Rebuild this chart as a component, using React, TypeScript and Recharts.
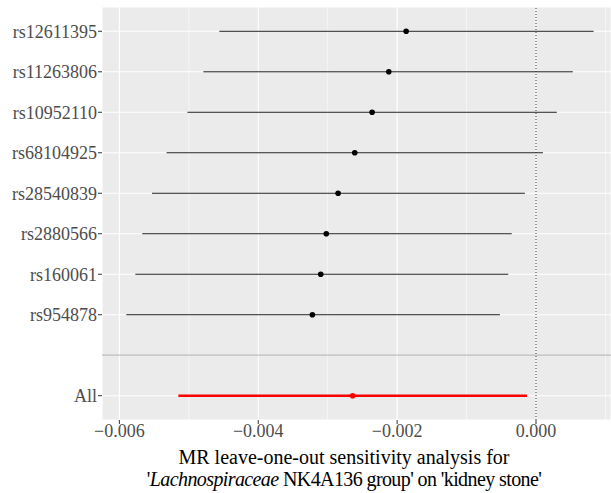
import React from 'react';
import {
  ScatterChart,
  Scatter,
  XAxis,
  YAxis,
  CartesianGrid,
  ReferenceLine,
  ErrorBar,
} from 'recharts';

const snps = [
  'rs12611395',
  'rs11263806',
  'rs10952110',
  'rs68104925',
  'rs28540839',
  'rs2880566',
  'rs160061',
  'rs954878',
];
const beta = [-0.00187, -0.00212, -0.00236, -0.00261, -0.00285, -0.00302, -0.0031, -0.00322];
const lower = [-0.00456, -0.00479, -0.00502, -0.00532, -0.00553, -0.00567, -0.00577, -0.0059];
const upper = [0.00083, 0.00053, 0.0003, 0.0001, -0.00016, -0.00035, -0.0004, -0.00052];

const allLabel = 'All';
const allBeta = -0.00264;
const allLower = -0.00515;
const allUpper = -0.00013;

// row positions on the y axis (All sits below a separator line)
const snpRows = [10, 9, 8, 7, 6, 5, 4, 3];
const allRow = 1;
const separatorRow = 2;

const xTicks = [-0.006, -0.004, -0.002, 0];
const xMinor = [-0.005, -0.003, -0.001, 0.001];

const FONT = '"Liberation Serif", "Times New Roman", serif';

const snpData = snps.map((name, i) => ({
  name,
  x: beta[i],
  y: snpRows[i],
  err: [beta[i] - lower[i], upper[i] - beta[i]],
}));

const allData = [
  { name: allLabel, x: allBeta, y: allRow, err: [allBeta - allLower, allUpper - allBeta] },
];

const yTicks = [allRow, ...snpRows.slice().reverse()];
const yLabel = (v: number) => {
  if (v === allRow) return allLabel;
  const i = snpRows.indexOf(v);
  return i >= 0 ? snps[i] : '';
};

const xLabel = (v: number) => (v === 0 ? '0.000' : '\u2212' + Math.abs(v).toFixed(3));

const dot = (color: string) => (props: any) => (
  <circle cx={props.cx} cy={props.cy} r={2.8} fill={color} />
);

export default function App() {
  return (
    <div style={{ position: 'absolute', left: 0, top: 0, width: 611, height: 493, background: '#fff' }}>
      <ScatterChart
        width={611}
        height={493}
        margin={{ top: 7, right: 0, bottom: 43, left: 0 }}
        style={{ fontFamily: FONT }}
      >
        <CartesianGrid fill="#ebebeb" stroke="#ffffff" strokeWidth={1.1} />
        {xMinor.map((v) => (
          <ReferenceLine key={v} x={v} stroke="#ffffff" strokeWidth={0.55} />
        ))}
        <XAxis
          type="number"
          dataKey="x"
          domain={[-0.00625, 0.00108]}
          ticks={xTicks}
          tickFormatter={xLabel}
          allowDataOverflow
          axisLine={false}
          tickSize={4}
          tickMargin={0}
          height={30}
          tickLine={{ stroke: '#333333' }}
          tick={{ fill: '#4d4d4d', fontSize: 18, fontFamily: FONT }}
        />
        <YAxis
          type="number"
          dataKey="y"
          domain={[0.4, 10.6]}
          ticks={yTicks}
          tickFormatter={yLabel}
          allowDataOverflow
          axisLine={false}
          width={102}
          tickSize={4}
          tickMargin={1}
          tickLine={{ stroke: '#333333' }}
          tick={{ fill: '#4d4d4d', fontSize: 18, fontFamily: FONT }}
        />
        <ReferenceLine y={separatorRow} stroke="#bebebe" strokeWidth={1.3} />
        <ReferenceLine x={0} stroke="#333333" strokeWidth={1} strokeDasharray="1 2" />
        <Scatter data={snpData} shape={dot('#000000')} isAnimationActive={false}>
          <ErrorBar
            dataKey="err"
            direction="x"
            width={0}
            stroke="#222222"
            strokeWidth={1}
            isAnimationActive={false}
          />
        </Scatter>
        <Scatter data={allData} shape={dot('#ff0000')} isAnimationActive={false}>
          <ErrorBar
            dataKey="err"
            direction="x"
            width={0}
            stroke="#ff0000"
            strokeWidth={2.5}
            isAnimationActive={false}
          />
        </Scatter>
      </ScatterChart>
      <div
        style={{
          position: 'absolute',
          left: 94,
          width: 500,
          top: 446,
          textAlign: 'center',
          fontFamily: FONT,
          fontSize: 20,
          lineHeight: '22px',
          color: '#000',
        }}
      >
        MR leave-one-out sensitivity analysis for
        <br />
        <span style={{ letterSpacing: '-0.6px' }}>
          '<i>Lachnospiraceae</i> NK4A136 group' on 'kidney stone'
        </span>
      </div>
    </div>
  );
}
